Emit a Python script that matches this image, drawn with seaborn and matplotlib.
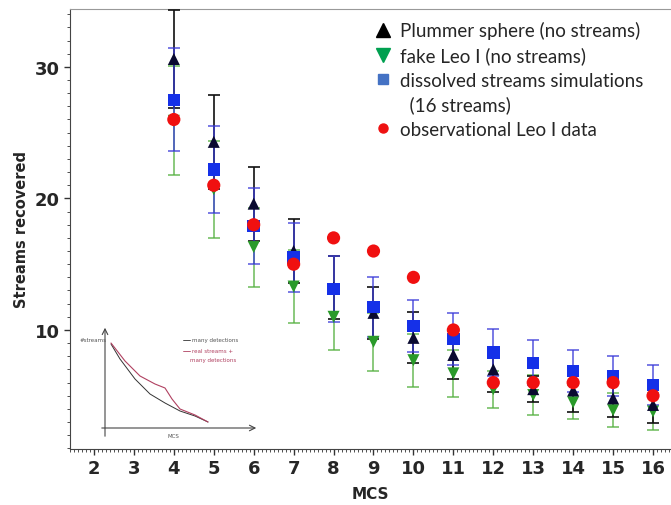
import numpy as np
import pandas as pd
import matplotlib
matplotlib.use("Agg")
import matplotlib.pyplot as plt
import seaborn as sns
from matplotlib.lines import Line2D
from matplotlib.ticker import MultipleLocator

mcs = [4, 5, 6, 7, 8, 9, 10, 11, 12, 13, 14, 15, 16]

plummer = [30.6, 24.3, 19.6, 16.0, 13.2, 11.3, 9.4, 8.1, 7.0, 5.5, 5.4, 4.8, 4.3]
plummer_err = [3.7, 3.6, 2.8, 2.4, 2.4, 2.0, 1.95, 1.8, 1.7, 1.0, 1.6, 1.4, 1.4]

fake_leo = [25.9, 20.7, 16.3, 13.3, 11.0, 9.1, 7.7, 6.7, 5.5, 5.05, 4.5, 3.9, 3.8]
fake_leo_err = [4.15, 3.7, 3.0, 2.8, 2.5, 2.2, 2.0, 1.8, 1.4, 1.55, 1.3, 1.3, 1.4]

dissolved = [27.5, 22.2, 17.9, 15.5, 13.1, 11.75, 10.3, 9.3, 8.3, 7.5, 6.9, 6.5, 5.8]
dissolved_err = [3.9, 3.3, 2.9, 2.6, 2.5, 2.25, 2.0, 2.0, 1.8, 1.7, 1.6, 1.5, 1.5]

observed = [26.0, 21.0, 18.0, 15.0, 17.0, 16.0, 14.0, 10.0, 6.0, 6.0, 6.0, 6.0, 5.0]

# hand-drawn sketch in the lower left (pixel coords of the picture)
sketch_x = [111, 120, 135, 150, 165, 180, 195, 208]
sketch_black = [345, 360, 380, 395, 404, 412, 417, 423]
sketch_red_x = [111, 125, 140, 155, 165, 172, 180, 195, 208]
sketch_red = [344, 362, 377, 385, 389, 400, 410, 416, 423]

df = pd.DataFrame({"MCS": mcs * 4,
                   "val": plummer + fake_leo + dissolved + observed,
                   "kind": ["plummer"] * 13 + ["fake"] * 13 + ["dissolved"] * 13 + ["obs"] * 13})

sns.set_style("ticks")
plt.rcParams["font.family"] = ["DejaVu Sans"]

fig = plt.figure(figsize=(6.71, 5.06), dpi=100)
ax = fig.add_axes([70 / 671, 1 - 450 / 506, 1 - 70 / 671, 440 / 506])

# error bars
ax.errorbar(mcs, fake_leo, yerr=fake_leo_err, fmt="none", ecolor="#55b040", elinewidth=1.2,
            capsize=4, capthick=1.2, alpha=0.8, zorder=2)
ax.errorbar(mcs, plummer, yerr=plummer_err, fmt="none", ecolor="#111111", elinewidth=1.2,
            capsize=4, capthick=1.2, zorder=3)
ax.errorbar(mcs, dissolved, yerr=dissolved_err, fmt="none", ecolor="#3a3ad8", elinewidth=1.2,
            capsize=4, capthick=1.2, alpha=0.8, zorder=4)

sns.scatterplot(data=df[df.kind == "fake"], x="MCS", y="val", marker="v", s=75,
                color="#2a9a2a", edgecolor="none", ax=ax, zorder=5)
sns.scatterplot(data=df[df.kind == "plummer"], x="MCS", y="val", marker="^", s=75,
                color="#0a0a30", edgecolor="none", ax=ax, zorder=6)
sns.scatterplot(data=df[df.kind == "dissolved"], x="MCS", y="val", marker="s", s=80,
                color="#1530e8", edgecolor="none", ax=ax, zorder=7)
sns.scatterplot(data=df[df.kind == "obs"], x="MCS", y="val", marker="o", s=90,
                color="#f01010", edgecolor="none", ax=ax, zorder=8)

ax.set_xlim(1.4, 16.45)
ax.set_ylim(0.95, 34.4)
ax.set_xticks(range(2, 17))
ax.set_yticks([10, 20, 30])
ax.xaxis.set_minor_locator(MultipleLocator(0.1))
ax.yaxis.set_minor_locator(MultipleLocator(1))
ax.tick_params(axis="both", which="major", labelsize=13, length=4, width=1, color="#333333")
ax.tick_params(axis="both", which="minor", length=2.5, width=0.6, color="#333333")
for lab in ax.get_xticklabels() + ax.get_yticklabels():
    lab.set_fontweight("bold")
ax.set_xlabel("MCS", fontsize=11, fontweight="bold", labelpad=6)
ax.set_ylabel("Streams recovered", fontsize=10.5, fontweight="bold", labelpad=4)

ax.spines["right"].set_visible(False)
ax.spines["top"].set_color("#999999")
ax.spines["left"].set_color("#444444")
ax.spines["bottom"].set_color("#444444")

handles = [
    Line2D([], [], marker="^", color="black", linestyle="none", markersize=10),
    Line2D([], [], marker="v", color="#00a050", linestyle="none", markersize=10),
    Line2D([], [], marker="s", color="#4472c4", linestyle="none", markersize=6.5),
    Line2D([], [], linestyle="none"),
    Line2D([], [], marker="o", color="#ee1111", linestyle="none", markersize=6.5),
]
labels = ["Plummer sphere (no streams)", "fake Leo I (no streams)",
          "dissolved streams simulations", "  (16 streams)", "observational Leo I data"]
leg = ax.legend(handles, labels, loc="upper left", bbox_to_anchor=(364 / 671, 1 - 13 / 506),
                bbox_transform=fig.transFigure, frameon=False,
                prop={"family": "Lato", "size": 13.5}, handletextpad=0.4,
                labelspacing=0.38, handlelength=1.0, borderpad=0)

# inset sketch
ins = fig.add_axes([75 / 671, 1 - 445 / 506, 190 / 671, 125 / 506])
ins.set_xlim(75, 265)
ins.set_ylim(445, 320)
ins.axis("off")
ins.annotate("", xy=(105, 326), xytext=(105, 440),
             arrowprops=dict(arrowstyle="->", color="#444444", lw=0.8))
ins.annotate("", xy=(259, 429), xytext=(99, 429),
             arrowprops=dict(arrowstyle="->", color="#444444", lw=0.8))
ins.plot(sketch_x, sketch_black, color="#333333", lw=0.7)
ins.plot(sketch_red_x, sketch_red, color="#b04060", lw=0.8)
ins.text(80, 341, "#streams", fontsize=4, color="#555555", va="center")
ins.plot([183, 190], [341, 341], color="#333333", lw=0.6)
ins.text(192, 341, "many detections", fontsize=4, color="#555555", va="center")
ins.plot([183, 190], [352, 352], color="#b04060", lw=0.6)
ins.text(192, 352, "real streams +", fontsize=4, color="#b04060", va="center")
ins.text(190, 361, "many detections", fontsize=4, color="#b04060", va="center")
ins.text(168, 437, "MCS", fontsize=4, color="#555555", va="center")

fig.savefig("out.png", dpi=100)
